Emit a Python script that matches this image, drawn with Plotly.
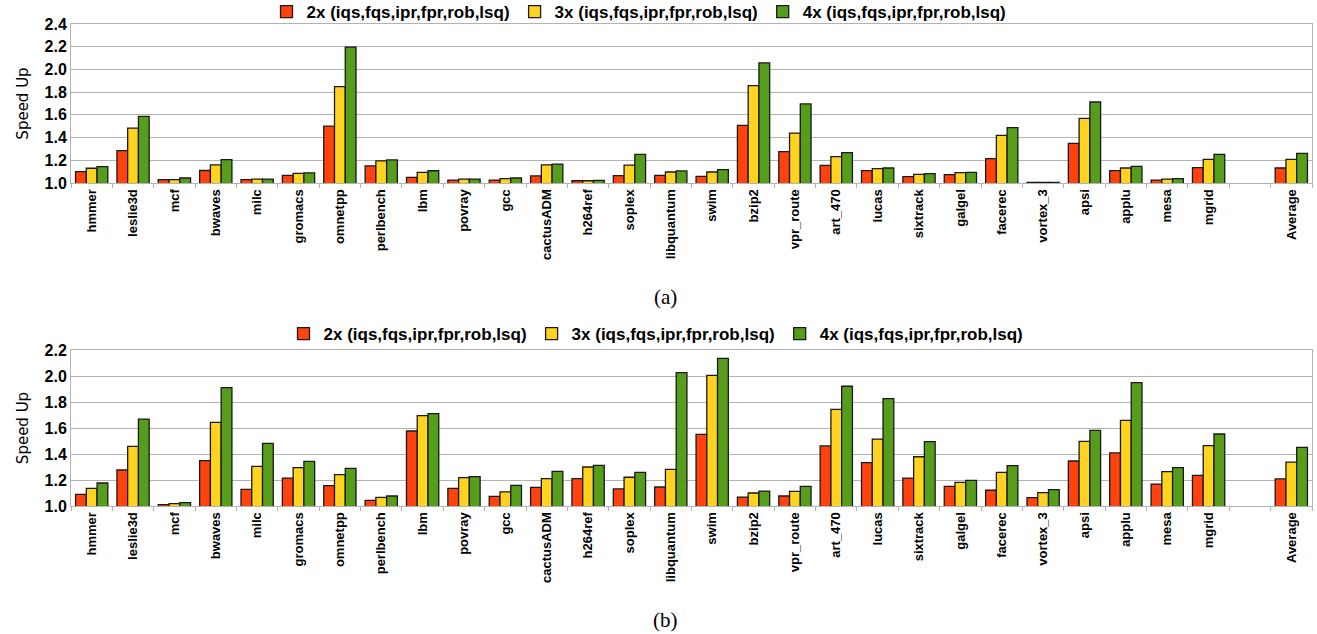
import plotly.graph_objects as go

categories = ["hmmer", "leslie3d", "mcf", "bwaves", "milc", "gromacs", "omnetpp", "perlbench",
              "lbm", "povray", "gcc", "cactusADM", "h264ref", "soplex", "libquantum", "swim",
              "bzip2", "vpr_route", "art_470", "lucas", "sixtrack", "galgel", "facerec",
              "vortex_3", "apsi", "applu", "mesa", "mgrid", " ", "Average"]

series_names = ["2x (iqs,fqs,ipr,fpr,rob,lsq)", "3x (iqs,fqs,ipr,fpr,rob,lsq)",
                "4x (iqs,fqs,ipr,fpr,rob,lsq)"]

# Chart (a)
a_2x = [1.10, 1.285, 1.03, 1.11, 1.03, 1.067, 1.50, 1.15, 1.05, 1.026, 1.026, 1.062, 1.02,
        1.065, 1.067, 1.059, 1.508, 1.276, 1.156, 1.109, 1.056, 1.073, 1.214, 1.005, 1.349,
        1.109, 1.026, 1.135, None, 1.132]
a_3x = [1.13, 1.484, 1.03, 1.16, 1.035, 1.085, 1.848, 1.194, 1.094, 1.035, 1.038, 1.16, 1.02,
        1.158, 1.097, 1.097, 1.857, 1.44, 1.232, 1.126, 1.076, 1.091, 1.42, 1.005, 1.569,
        1.132, 1.035, 1.208, None, 1.208]
a_4x = [1.144, 1.587, 1.044, 1.205, 1.035, 1.09, 2.197, 1.203, 1.108, 1.035, 1.044, 1.167, 1.023,
        1.252, 1.106, 1.117, 2.057, 1.696, 1.267, 1.132, 1.082, 1.094, 1.487, 1.005, 1.713,
        1.147, 1.038, 1.252, None, 1.261]

# Chart (b)
b_2x = [1.09, 1.277, 1.01, 1.349, 1.128, 1.215, 1.156, 1.044, 1.577, 1.136, 1.074, 1.144, 1.21,
        1.131, 1.146, 1.551, 1.069, 1.077, 1.462, 1.333, 1.215, 1.151, 1.121, 1.064, 1.346,
        1.408, 1.169, 1.236, None, 1.208]
b_3x = [1.136, 1.459, 1.018, 1.644, 1.305, 1.295, 1.241, 1.067, 1.695, 1.218, 1.108, 1.21, 1.30,
        1.221, 1.282, 2.005, 1.10, 1.113, 1.744, 1.515, 1.379, 1.182, 1.259, 1.103, 1.497,
        1.659, 1.264, 1.464, None, 1.338]
b_4x = [1.177, 1.669, 1.026, 1.91, 1.482, 1.344, 1.29, 1.077, 1.71, 1.226, 1.159, 1.267, 1.313,
        1.259, 2.026, 2.136, 1.115, 1.151, 1.921, 1.826, 1.495, 1.197, 1.31, 1.126, 1.582,
        1.949, 1.295, 1.554, None, 1.451]

colors = ["#ff420e", "#ffd320", "#579d1c"]
y_ticks_a = [1.0, 1.2, 1.4, 1.6, 1.8, 2.0, 2.2, 2.4]
y_ticks_b = [1.0, 1.2, 1.4, 1.6, 1.8, 2.0, 2.2]

W, H = 1317, 634

fig = go.Figure()
for i, (vals, name) in enumerate(zip([a_2x, a_3x, a_4x], series_names)):
    fig.add_trace(go.Bar(x=categories, y=vals, name=name, xaxis="x", yaxis="y",
                         marker=dict(color=colors[i], line=dict(color="#1a1a1a", width=1.3)),
                         legend="legend"))
for i, (vals, name) in enumerate(zip([b_2x, b_3x, b_4x], series_names)):
    fig.add_trace(go.Bar(x=categories, y=vals, name=name, xaxis="x2", yaxis="y2",
                         marker=dict(color=colors[i], line=dict(color="#1a1a1a", width=1.3)),
                         legend="legend2"))

xdom = [71 / W, 1312 / W]
ya_dom = [1 - 183 / H, 1 - 24 / H]
yb_dom = [1 - 506 / H, 1 - 350 / H]

xcommon = dict(type="category", categoryorder="array", categoryarray=categories,
               tickangle=-90, ticks="outside", tickson="boundaries", ticklen=4,
               tickcolor="#b3b3b3", showline=True, linecolor="#b3b3b3", mirror=True,
               tickfont=dict(family="Liberation Sans", size=13, color="black", weight="bold"),
               showgrid=False, domain=xdom, automargin=False)
ycommon = dict(showgrid=True, gridcolor="#b3b3b3", gridwidth=1, showline=True,
               linecolor="#b3b3b3", mirror=True, ticks="", zeroline=False,
               tickformat=".1f", automargin=False,
               tickfont=dict(family="Liberation Sans", size=16, color="black", weight="bold"),
               title=dict(text="Speed Up", font=dict(family="DejaVu Sans", size=15, color="black"),
                          standoff=12))

legfont = dict(family="Liberation Sans Narrow, Liberation Sans", size=17, color="black",
               weight="bold")

fig.update_layout(
    width=W, height=H,
    margin=dict(l=0, r=0, t=0, b=0, autoexpand=False),
    paper_bgcolor="white", plot_bgcolor="white",
    barmode="group", bargap=0.22, bargroupgap=0.0,
    xaxis=dict(xcommon, anchor="y"),
    yaxis=dict(ycommon, domain=ya_dom, range=[1.0, 2.4], tickvals=y_ticks_a, anchor="x"),
    xaxis2=dict(xcommon, anchor="y2"),
    yaxis2=dict(ycommon, domain=yb_dom, range=[1.0, 2.2], tickvals=y_ticks_b, anchor="x2"),
    legend=dict(orientation="h", x=639 / W, xanchor="center", y=1 - 12 / H, yanchor="middle",
                font=legfont, bgcolor="rgba(0,0,0,0)", itemwidth=30, tracegroupgap=0),
    legend2=dict(orientation="h", x=656 / W, xanchor="center", y=1 - 334 / H, yanchor="middle",
                 font=legfont, bgcolor="rgba(0,0,0,0)", itemwidth=30, tracegroupgap=0),
    annotations=[
        dict(text="(a)", x=665 / W, y=1 - 297 / H, xref="paper", yref="paper",
             showarrow=False, font=dict(family="Liberation Serif", size=21, color="black"),
             xanchor="center", yanchor="middle"),
        dict(text="(b)", x=665 / W, y=1 - 620 / H, xref="paper", yref="paper",
             showarrow=False, font=dict(family="Liberation Serif", size=21, color="black"),
             xanchor="center", yanchor="middle"),
    ],
)

fig.write_html("out.html", config={"displayModeBar": False},
               post_script="document.body.style.margin='0';document.body.style.overflow='hidden';")
